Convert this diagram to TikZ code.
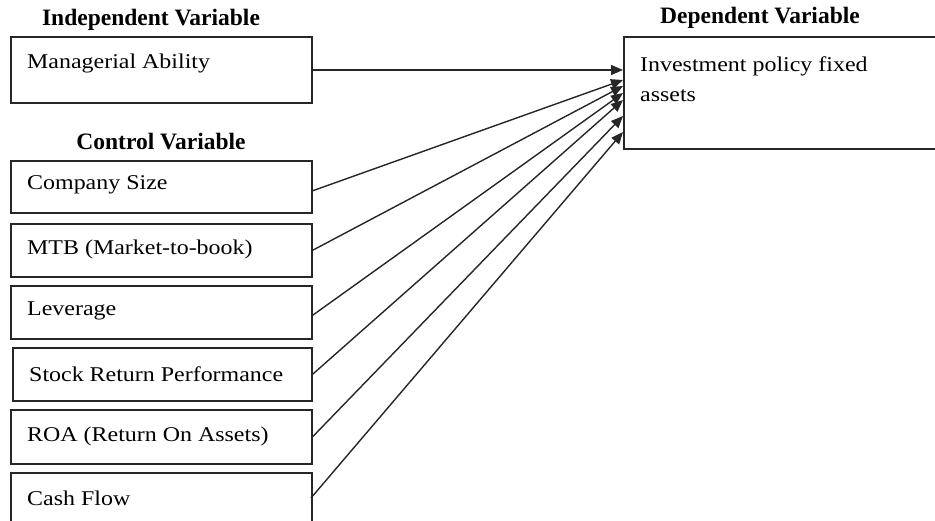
\documentclass[tikz,border=0pt]{standalone}
\usepackage{fontspec}
\setmainfont{Liberation Serif}
\newfontfamily\lblfont[FakeStretch=1.14]{Liberation Serif}
\usetikzlibrary{arrows.meta}
\begin{document}
\begin{tikzpicture}[x=1pt,y=-1pt,
  box/.style={draw=black!85,line width=1.6pt,rectangle,inner sep=0pt,anchor=north west},
  lbl/.style={anchor=west,inner sep=0pt,font=\lblfont\fontsize{21}{30}\selectfont},
  ttl/.style={inner sep=0pt,font=\fontsize{23.5}{26}\selectfont\bfseries},
  conn/.style={draw=black!85,line width=1.4pt,-{Triangle[length=12pt,width=10pt]}}]
\useasboundingbox (0,0) rectangle (935,521);
% titles
\node[ttl] (tind) at (151,20) {Independent Variable};
\node[ttl] (tctl) at (161,142) {Control Variable};
\node[ttl] (tdep) at (760,18) {Dependent Variable};
% boxes
\node[box,minimum width=301pt,minimum height=66pt] (ma) at (10,36) {};
\node[box,minimum width=301pt,minimum height=52pt] (cs) at (10,160) {};
\node[box,minimum width=301pt,minimum height=53pt] (mtb) at (10,223) {};
\node[box,minimum width=301pt,minimum height=53pt] (lev) at (10,285) {};
\node[box,minimum width=299pt,minimum height=53pt] (srp) at (12,347) {};
\node[box,minimum width=301pt,minimum height=54pt] (roa) at (10,409) {};
\node[box,minimum width=301pt,minimum height=60pt] (cf) at (10,472) {};
\node[box,minimum width=320pt,minimum height=112pt] (dep) at (623,36) {};
% labels
\node[lbl] (tma) at (27,63) {Managerial Ability};
\node[lbl] (tcs) at (27,185) {Company Size};
\node[lbl] (tmtb) at (27,249) {MTB (Market-to-book)};
\node[lbl] (tlev) at (27,311) {Leverage};
\node[lbl] (tsrp) at (29,374) {Stock Return Performance};
\node[lbl] (troa) at (27,436) {ROA (Return On Assets)};
\node[lbl] (tcf) at (27,498) {Cash Flow};
\node[lbl,anchor=north west,align=left] (tdepl) at (640,57) {Investment policy fixed\\assets};
% arrow ends
\coordinate (e0) at (623,70);
\coordinate (e1) at (623,80);
\coordinate (e2) at (623,86);
\coordinate (e3) at (623,93);
\coordinate (e4) at (623,100);
\coordinate (e5) at (623,116);
\coordinate (e6) at (623,132);
% connectors
\draw[conn] (ma.east |- e0) -- (e0);
\draw[conn] ([yshift=-4pt]cs.east) -- (e1);
\draw[conn] (mtb.east) -- (e2);
\draw[conn] ([yshift=-3pt]lev.east) -- (e3);
\draw[conn] (srp.east) -- (e4);
\draw[conn] (roa.east) -- (e5);
\draw[conn] (311,498) -- (e6);
\end{tikzpicture}
\end{document}
